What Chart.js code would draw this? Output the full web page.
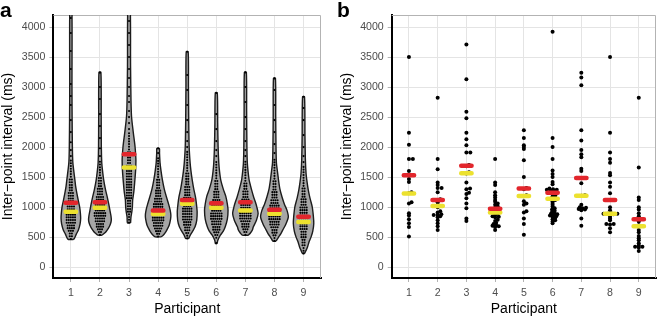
<!DOCTYPE html>
<html><head><meta charset="utf-8">
<script src="https://cdn.jsdelivr.net/npm/chart.js@4.4.1/dist/chart.umd.min.js"></script>
<style>
html,body{margin:0;padding:0;background:#fff;}
#wrap{position:relative;width:660px;height:318px;overflow:hidden;background:#fff;}
.pane{position:absolute;top:0;width:330px;height:318px;}
.lab{position:absolute;font:bold 21px "Liberation Sans",Arial,sans-serif;line-height:21px;color:#000;}
</style></head><body>
<div id="wrap">
<div class="pane" style="left:0"><canvas id="ca" width="330" height="318"></canvas></div>
<div class="pane" style="left:330px"><canvas id="cb" width="330" height="318"></canvas></div>
<div class="lab" style="left:0;top:-1px">a</div>
<div class="lab" style="left:337px;top:-1px">b</div>
</div>
<script>
// ---------- categories & ticks ----------
const participants = ['1','2','3','4','5','6','7','8','9'];
const yTicks = [0,500,1000,1500,2000,2500,3000,3500,4000];

// ---------- panel a : summary markers ----------
const meanA   = [1072, 1080, 1883, 945, 1120, 1065, 1080, 955, 838];
const medianA = [922, 990, 1661, 885, 1055, 990, 945, 888, 752];

// ---------- panel a : violin outlines (level in ms, relative density) ----------
const violinLevels1 = [462,480,550,620,720,815,900,1000,1100,1230,1350,1450,1600,1750,2000,2500,3000,4400];
const violinDens1   = [0.18,0.25,0.39,0.54,0.66,0.70,0.68,0.63,0.54,0.43,0.34,0.29,0.21,0.14,0.11,0.09,0.08,0.07];
const violinLevels2 = [533,560,590,650,720,780,850,950,1050,1172,1300,1450,1617,1740,2000,2500,3245];
const violinDens2   = [0.14,0.29,0.43,0.61,0.75,0.81,0.79,0.71,0.63,0.52,0.39,0.27,0.18,0.13,0.10,0.09,0.07];
const violinLevels3 = [738,838,920,1005,1117,1250,1400,1617,1800,2006,2233,2506,2783,3339,4400];
const violinDens3   = [0.11,0.14,0.20,0.24,0.26,0.34,0.40,0.47,0.49,0.43,0.31,0.18,0.14,0.11,0.08];
const violinLevels4 = [505,530,570,617,700,800,867,950,1050,1172,1300,1450,1600,1733,1900,1978];
const violinDens4   = [0.21,0.36,0.50,0.62,0.79,0.89,0.91,0.86,0.75,0.59,0.44,0.31,0.21,0.14,0.10,0.09];
const violinLevels5 = [478,530,600,672,780,922,1050,1170,1300,1450,1600,1733,2006,2400,3000,3589];
const violinDens5   = [0.11,0.21,0.39,0.56,0.68,0.71,0.66,0.59,0.47,0.36,0.27,0.21,0.14,0.11,0.09,0.07];
const violinLevels6 = [394,450,533,600,672,800,950,1050,1180,1300,1450,1600,1733,2000,2400,2906];
const violinDens6   = [0.06,0.11,0.29,0.50,0.64,0.79,0.84,0.79,0.68,0.50,0.32,0.23,0.18,0.13,0.10,0.07];
const violinLevels7 = [533,570,620,672,780,894,1000,1090,1170,1300,1450,1600,1733,2000,2600,3244];
const violinDens7   = [0.21,0.36,0.50,0.57,0.79,0.91,0.82,0.71,0.59,0.43,0.27,0.19,0.14,0.11,0.09,0.07];
const violinLevels8 = [433,470,500,560,617,720,838,950,1050,1170,1300,1450,1600,1733,2000,2500,3144];
const violinDens8   = [0.11,0.21,0.29,0.46,0.59,0.82,0.99,0.89,0.71,0.54,0.39,0.29,0.21,0.14,0.11,0.09,0.07];
const violinLevels9 = [228,280,340,420,505,600,728,850,1005,1150,1283,1420,1560,1800,2200,2839];
const violinDens9   = [0.07,0.18,0.29,0.39,0.54,0.66,0.73,0.70,0.62,0.46,0.34,0.25,0.18,0.13,0.10,0.07];

// ---------- panel a : dot-plot rows (lowest bin, counts per 45 ms bin) and sparse tails ----------
const dotBinWidthA = 45;
const dotStartA = [470, 540, 745, 510, 480, 400, 540, 440, 230];
const dotCountsA1 = [1,2,2,3,4,4,5,5,5,5,4,4,4,4,3,3,3,3,2,2,2,2,2,1,1,1,1,1,1,1];
const dotCountsA2 = [1,2,3,4,4,5,5,6,6,5,5,5,4,4,4,3,3,3,2,2,2,2,1,1,1,1,1,1];
const dotCountsA3 = [1,1,1,1,2,2,2,2,2,3,3,3,3,3,3,3,3,3,3,3,3,3,2,2,2,2,2,1,1,1,1,1,1,1];
const dotCountsA4 = [1,2,3,4,5,5,6,6,6,6,5,5,5,4,4,3,3,3,2,2,2,2,1,1,1,1,1,1,1,1];
const dotCountsA5 = [1,1,2,3,3,4,4,5,5,5,5,5,4,4,4,4,3,3,3,3,2,2,2,2,2,1,1,1,1,1,1,1,1];
const dotCountsA6 = [1,0,1,2,3,4,4,5,5,6,6,6,5,5,5,4,4,3,3,3,2,2,2,2,1,1,1,1,1,1,1];
const dotCountsA7 = [1,2,3,4,4,5,6,6,6,6,5,5,4,4,3,3,3,2,2,2,1,1,1,1,1,1,1,1];
const dotCountsA8 = [1,1,2,3,3,4,5,5,6,6,6,6,5,5,4,4,3,3,3,2,2,2,2,1,1,1,1,1,1,1,1];
const dotCountsA9 = [1,1,1,2,2,2,3,3,3,4,4,4,5,5,4,4,4,4,3,3,3,2,2,2,2,1,1,1,1,1,1,1,1];
const tailA1 = [1850,1950,2080,2250,2450,2700,2850,3050,3300,3600,3900,4150,4400];
const tailA2 = [1850,1980,2150,2350,2550,2800,3000,3240];
const tailA3 = [2300,2400,2500,2600,2750,2850,3000,3150,3300,3500,3700,3900,4100,4300];
const tailA4 = [1900,1978];
const tailA5 = [2000,2100,2250,2450,2700,2950,3200,3589];
const tailA6 = [1850,1950,2100,2300,2550,2900];
const tailA7 = [1850,1950,2100,2300,2500,2750,3000,3244];
const tailA8 = [1900,2050,2250,2450,2700,2950,3144];
const tailA9 = [1750,1850,2000,2200,2450,2650,2839];

// ---------- panel b : individual values ----------
const pointsB1 = [3500,2240,2040,1800,1800,1600,1530,1470,1420,1250,1230,1080,1060,900,860,800,730,670,510];
const pointsB2 = [2820,1800,1630,1410,1370,1320,1320,1250,1130,1110,1080,1040,1000,930,910,880,870,870,850,830,780,730,680,620];
const pointsB3 = [3710,3130,2590,2480,2240,2130,2030,1910,1910,1700,1680,1580,1560,1410,1310,1300,1240,1220,1150,1060,980,810,770];
const pointsB4 = [1800,1410,1370,1250,1200,1160,1120,1090,1060,1040,1010,990,970,950,930,910,890,870,850,840,830,790,770,740,720,700,690,680,670,620];
const pointsB5 = [2280,2150,2030,2000,1970,1780,1500,1320,1300,1200,1180,1100,1060,1040,930,910,810,720,540];
const pointsB6 = [3920,2150,2000,1800,1610,1550,1500,1420,1380,1310,1300,1290,1290,1280,1270,1250,1240,1220,1200,1180,1160,1140,1120,1100,1070,1040,1010,980,960,940,920,900,890,880,870,860,850,840,820,800,780,760,730];
const pointsB7 = [3240,3160,3030,2280,2110,1950,1880,1830,1640,1600,1480,1400,1200,1190,1040,1000,990,980,970,960,950,810,690];
const pointsB8 = [3500,2240,1910,1800,1740,1570,1530,1410,1340,1230,1120,1000,950,900,890,890,890,880,870,840,810,780,720,720,710,650,580];
const pointsB9 = [2820,1660,1160,1120,1000,960,900,850,800,760,700,620,580,520,480,450,400,360,340,340,330,270];
const meanB   = [1533, 1120, 1690, 975, 1311, 1240, 1485, 1117, 797];
const medianB = [1228, 1020, 1565, 910, 1186, 1140, 1190, 890, 683];

// ---------- grouping ----------
const violinLevels = [violinLevels1,violinLevels2,violinLevels3,violinLevels4,violinLevels5,violinLevels6,violinLevels7,violinLevels8,violinLevels9];
const violinDens   = [violinDens1,violinDens2,violinDens3,violinDens4,violinDens5,violinDens6,violinDens7,violinDens8,violinDens9];
const dotCountsA   = [dotCountsA1,dotCountsA2,dotCountsA3,dotCountsA4,dotCountsA5,dotCountsA6,dotCountsA7,dotCountsA8,dotCountsA9];
const tailsA       = [tailA1,tailA2,tailA3,tailA4,tailA5,tailA6,tailA7,tailA8,tailA9];
const pointsB      = [pointsB1,pointsB2,pointsB3,pointsB4,pointsB5,pointsB6,pointsB7,pointsB8,pointsB9];

// ---------- styling ----------
const FONT = '"Liberation Sans", Arial, Helvetica, sans-serif';
const RED = '#e2262c', YELLOW = '#ece12f';
const VIOLIN_MAX_HALF_PX = 14;

const panelBorder = {
  id: 'panelBorder',
  beforeDatasetsDraw(chart) {
    const {ctx, chartArea: a} = chart;
    ctx.save();
    ctx.strokeStyle = '#b3b3b3'; ctx.lineWidth = 1;
    ctx.beginPath();
    ctx.moveTo(a.left, a.top + 0.5);
    ctx.lineTo(a.right - 0.5, a.top + 0.5);
    ctx.lineTo(a.right - 0.5, a.bottom);
    ctx.stroke();
    ctx.restore();
  }
};

function makeChart(id, padLeft, padRight, datasets) {
  const gridOpts = { color: '#e4e4e4', lineWidth: 1, tickLength: 4, tickColor: '#b3b3b3', drawTicks: true };
  return new Chart(document.getElementById(id), {
    type: 'line',
    data: { datasets },
    options: {
      responsive: false, animation: false, events: [],
      layout: { padding: { left: padLeft, right: padRight, top: 15, bottom: 0 } },
      plugins: { legend: { display: false }, tooltip: { enabled: false } },
      scales: {
        x: {
          type: 'linear', min: 0.4, max: 9.6,
          afterBuildTicks: s => { s.ticks = participants.map((p, i) => ({ value: i + 1 })); },
          afterFit: s => { s.height = 40; },
          ticks: { callback: v => participants[Math.round(v) - 1] ?? '', color: '#4d4d4d',
                   font: { family: FONT, size: 10.6 }, padding: 4.3, maxRotation: 0, autoSkip: false },
          grid: gridOpts,
          border: { display: true, color: '#000', width: 2 },
          title: { display: true, text: 'Participant', color: '#000', font: { family: FONT, size: 14 },
                   padding: { top: 0, bottom: 0.5 } }
        },
        y: {
          type: 'linear', min: -180, max: 4200,
          afterBuildTicks: s => { s.ticks = yTicks.map(v => ({ value: v })); },
          afterFit: s => { s.width = 53.4; },
          ticks: { callback: v => String(v), color: '#4d4d4d', font: { family: FONT, size: 10.6 }, padding: 4 },
          grid: gridOpts,
          border: { display: true, color: '#000', width: 2 },
          title: { display: true, text: 'Inter\u2212point interval (ms)', color: '#000',
                   font: { family: FONT, size: 14 }, padding: { top: 0, bottom: 0 } }
        }
      }
    },
    plugins: [panelBorder]
  });
}

function pxToXUnits(chart, px) { const s = chart.scales.x; return px * (s.max - s.min) / s.width; }

function markerData(chart, values) {
  const half = pxToXUnits(chart, 5.25);
  const out = [];
  values.forEach((v, i) => {
    out.push({ x: i + 1 - half, y: v }, { x: i + 1 + half, y: v }, { x: i + 1, y: null });
  });
  return out;
}
function markerDataset(color, order) {
  return { data: [], borderColor: color, borderWidth: 4.5, borderCapStyle: 'round', pointRadius: 0,
           fill: false, spanGaps: false, order, clip: 0 };
}

// compact swarm: only nearly tied values are pushed sideways
function swarm(chart, values, cx, vThr, hSep) {
  const xs = chart.scales.x, ys = chart.scales.y;
  const cpx = xs.getPixelForValue(cx);
  const placed = [], pts = [];
  const clash = (p, x, y) => { const dy = Math.abs(p.y - y) / vThr, dx = Math.abs(p.x - x) / hSep; return dx * dx + dy * dy < 0.999; };
  [...values].sort((a, b) => a - b).forEach(v => {
    const py = ys.getPixelForValue(v);
    const near = placed.filter(p => Math.abs(p.y - py) < vThr);
    const cands = [0];
    near.forEach(p => { const dx = hSep * Math.sqrt(1 - ((p.y - py) / vThr) ** 2); cands.push(p.x + dx, p.x - dx); });
    cands.sort((a, b) => Math.abs(a) - Math.abs(b) || b - a);
    let off = 0;
    for (const c of cands) { if (near.every(p => !clash(p, c, py))) { off = c; break; } }
    placed.push({ x: off, y: py });
    pts.push({ x: xs.getValueForPixel(cpx + off), y: v });
  });
  return pts;
}

// ---------- panel a ----------
const violinSets = participants.map(() => ({
  data: [], borderColor: '#1c1c1c', borderWidth: 1.4, backgroundColor: '#a6a6a6', fill: 'shape',
  pointRadius: 0, tension: 0.25, order: 4, clip: 0
}));
const dotsA = { data: [], showLine: false, pointRadius: 1.05, pointBackgroundColor: '#000', pointBorderWidth: 0, order: 3, clip: 0 };
const redA = markerDataset(RED, 1), yellowA = markerDataset(YELLOW, 2);
const chartA = makeChart('ca', 0, 9, [redA, yellowA, dotsA, ...violinSets]);

(function fillA(chart) {
  const maxHalf = pxToXUnits(chart, VIOLIN_MAX_HALF_PX);
  violinLevels.forEach((lv, i) => {
    const cx = i + 1, d = violinDens[i];
    const right = lv.map((v, k) => ({ x: cx + d[k] * maxHalf, y: v }));
    const left = lv.map((v, k) => ({ x: cx - d[k] * maxHalf, y: v })).reverse();
    chart.data.datasets[3 + i].data = [...right, ...left, right[0]];
  });
  const dx = pxToXUnits(chart, 2.1);
  const dots = [];
  dotCountsA.forEach((counts, i) => {
    counts.forEach((n, k) => {
      const y = dotStartA[i] + k * dotBinWidthA;
      for (let j = 0; j < n; j++) dots.push({ x: i + 1 + (j - (n - 1) / 2) * dx, y });
    });
    tailsA[i].forEach(y => dots.push({ x: i + 1, y }));
  });
  chart.data.datasets[2].data = dots;
  chart.data.datasets[0].data = markerData(chart, meanA);
  chart.data.datasets[1].data = markerData(chart, medianA);
  chart.update('none');
})(chartA);

// ---------- panel b ----------
const dotsB = { data: [], showLine: false, pointRadius: 2, pointBackgroundColor: '#000', pointBorderWidth: 0, order: 3, clip: 0 };
const redB = markerDataset(RED, 1), yellowB = markerDataset(YELLOW, 2);
const chartB = makeChart('cb', 8.3, 0.5, [redB, yellowB, dotsB]);
(function fillB(chart) {
  let all = [];
  pointsB.forEach((vals, i) => { all = all.concat(swarm(chart, vals, i + 1, 1.6, 4)); });
  chart.data.datasets[2].data = all;
  chart.data.datasets[0].data = markerData(chart, meanB);
  chart.data.datasets[1].data = markerData(chart, medianB);
  chart.update('none');
})(chartB);
</script>
</body></html>
